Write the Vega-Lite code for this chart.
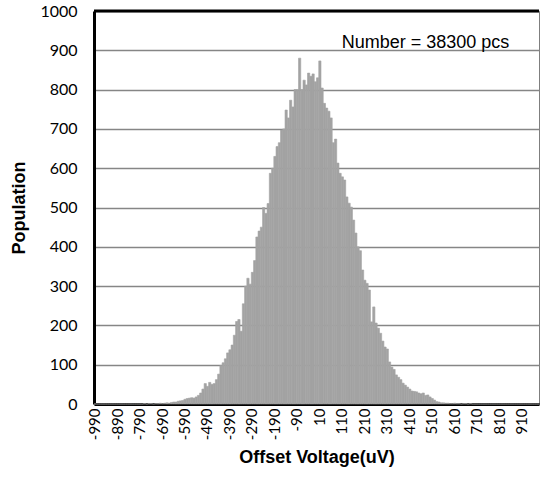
{
  "$schema": "https://vega.github.io/schema/vega-lite/v6.json",
  "width": 445,
  "height": 393,
  "autosize": {"type": "none"},
  "padding": {"left": 94, "top": 11, "right": 2, "bottom": 82},
  "background": "white",
  "config": {
    "view": {"stroke": "#7f7f7f", "strokeWidth": 1},
    "axis": {"labelColor": "black", "titleColor": "black"}
  },
  "data": {"values": [
    {"v": -990, "n": 0}, {"v": -980, "n": 0}, {"v": -970, "n": 0}, {"v": -960, "n": 0}, {"v": -950, "n": 0},
    {"v": -940, "n": 0}, {"v": -930, "n": 0}, {"v": -920, "n": 0}, {"v": -910, "n": 0}, {"v": -900, "n": 0},
    {"v": -890, "n": 0}, {"v": -880, "n": 0}, {"v": -870, "n": 0}, {"v": -860, "n": 0}, {"v": -850, "n": 0},
    {"v": -840, "n": 0}, {"v": -830, "n": 0}, {"v": -820, "n": 0}, {"v": -810, "n": 0}, {"v": -800, "n": 0},
    {"v": -790, "n": 0}, {"v": -780, "n": 0}, {"v": -770, "n": 1}, {"v": -760, "n": 0}, {"v": -750, "n": 1},
    {"v": -740, "n": 1}, {"v": -730, "n": 0}, {"v": -720, "n": 1}, {"v": -710, "n": 1}, {"v": -700, "n": 2},
    {"v": -690, "n": 1}, {"v": -680, "n": 2}, {"v": -670, "n": 3}, {"v": -660, "n": 2}, {"v": -650, "n": 4},
    {"v": -640, "n": 5}, {"v": -630, "n": 5}, {"v": -620, "n": 7}, {"v": -610, "n": 8}, {"v": -600, "n": 9},
    {"v": -590, "n": 12}, {"v": -580, "n": 14}, {"v": -570, "n": 15}, {"v": -560, "n": 16}, {"v": -550, "n": 15},
    {"v": -540, "n": 18}, {"v": -530, "n": 22}, {"v": -520, "n": 28}, {"v": -510, "n": 38}, {"v": -500, "n": 52},
    {"v": -490, "n": 45}, {"v": -480, "n": 55}, {"v": -470, "n": 50}, {"v": -460, "n": 52}, {"v": -450, "n": 62},
    {"v": -440, "n": 76}, {"v": -430, "n": 98}, {"v": -420, "n": 105}, {"v": -410, "n": 115}, {"v": -400, "n": 130},
    {"v": -390, "n": 138}, {"v": -380, "n": 150}, {"v": -370, "n": 175}, {"v": -360, "n": 210}, {"v": -350, "n": 215},
    {"v": -340, "n": 185}, {"v": -330, "n": 255}, {"v": -320, "n": 300}, {"v": -310, "n": 320}, {"v": -300, "n": 305},
    {"v": -290, "n": 335}, {"v": -280, "n": 365}, {"v": -270, "n": 425}, {"v": -260, "n": 440}, {"v": -250, "n": 450},
    {"v": -240, "n": 500}, {"v": -230, "n": 485}, {"v": -220, "n": 510}, {"v": -210, "n": 587}, {"v": -200, "n": 600},
    {"v": -190, "n": 630}, {"v": -180, "n": 655}, {"v": -170, "n": 665}, {"v": -160, "n": 697}, {"v": -150, "n": 700},
    {"v": -140, "n": 748}, {"v": -130, "n": 728}, {"v": -120, "n": 773}, {"v": -110, "n": 756}, {"v": -100, "n": 800},
    {"v": -90, "n": 800}, {"v": -80, "n": 880}, {"v": -70, "n": 800}, {"v": -60, "n": 824}, {"v": -50, "n": 812},
    {"v": -40, "n": 842}, {"v": -30, "n": 834}, {"v": -20, "n": 840}, {"v": -10, "n": 820}, {"v": 0, "n": 830},
    {"v": 10, "n": 873}, {"v": 20, "n": 804}, {"v": 30, "n": 765}, {"v": 40, "n": 753}, {"v": 50, "n": 745},
    {"v": 60, "n": 728}, {"v": 70, "n": 665}, {"v": 80, "n": 674}, {"v": 90, "n": 613}, {"v": 100, "n": 587},
    {"v": 110, "n": 578}, {"v": 120, "n": 570}, {"v": 130, "n": 527}, {"v": 140, "n": 511}, {"v": 150, "n": 501},
    {"v": 160, "n": 468}, {"v": 170, "n": 435}, {"v": 180, "n": 400}, {"v": 190, "n": 390}, {"v": 200, "n": 341},
    {"v": 210, "n": 315}, {"v": 220, "n": 307}, {"v": 230, "n": 290}, {"v": 240, "n": 209}, {"v": 250, "n": 247},
    {"v": 260, "n": 206}, {"v": 270, "n": 193}, {"v": 280, "n": 180}, {"v": 290, "n": 160}, {"v": 300, "n": 145},
    {"v": 310, "n": 140}, {"v": 320, "n": 107}, {"v": 330, "n": 94}, {"v": 340, "n": 88}, {"v": 350, "n": 74},
    {"v": 360, "n": 68}, {"v": 370, "n": 62}, {"v": 380, "n": 53}, {"v": 390, "n": 48}, {"v": 400, "n": 43},
    {"v": 410, "n": 38}, {"v": 420, "n": 33}, {"v": 430, "n": 32}, {"v": 440, "n": 31}, {"v": 450, "n": 28},
    {"v": 460, "n": 26}, {"v": 470, "n": 28}, {"v": 480, "n": 22}, {"v": 490, "n": 23}, {"v": 500, "n": 18},
    {"v": 510, "n": 14}, {"v": 520, "n": 10}, {"v": 530, "n": 6}, {"v": 540, "n": 5}, {"v": 550, "n": 3},
    {"v": 560, "n": 3}, {"v": 570, "n": 2}, {"v": 580, "n": 2}, {"v": 590, "n": 1}, {"v": 600, "n": 1},
    {"v": 610, "n": 2}, {"v": 620, "n": 1}, {"v": 630, "n": 1}, {"v": 640, "n": 0}, {"v": 650, "n": 1},
    {"v": 660, "n": 1}, {"v": 670, "n": 0}, {"v": 680, "n": 1}, {"v": 690, "n": 0}, {"v": 700, "n": 0},
    {"v": 710, "n": 0}, {"v": 720, "n": 0}, {"v": 730, "n": 0}, {"v": 740, "n": 0}, {"v": 750, "n": 0},
    {"v": 760, "n": 0}, {"v": 770, "n": 0}, {"v": 780, "n": 0}, {"v": 790, "n": 0}, {"v": 800, "n": 0},
    {"v": 810, "n": 0}, {"v": 820, "n": 0}, {"v": 830, "n": 0}, {"v": 840, "n": 0}, {"v": 850, "n": 0},
    {"v": 860, "n": 0}, {"v": 870, "n": 0}, {"v": 880, "n": 0}, {"v": 890, "n": 0}, {"v": 900, "n": 0},
    {"v": 910, "n": 0}, {"v": 920, "n": 0}, {"v": 930, "n": 0}, {"v": 940, "n": 0}, {"v": 950, "n": 0},
    {"v": 960, "n": 0}, {"v": 970, "n": 0}, {"v": 980, "n": 0}
  ]},
  "layer": [
    {
      "mark": {"type": "bar", "color": "#a3a3a3", "stroke": "#a3a3a3", "strokeWidth": 0.6},
      "encoding": {
        "x": {
          "field": "v", "type": "ordinal", "sort": "ascending",
          "scale": {"paddingInner": 0, "paddingOuter": 0},
          "axis": {
            "values": [-990, -890, -790, -690, -590, -490, -390, -290, -190, -90, 10, 110, 210, 310, 410, 510, 610, 710, 810, 910],
            "labelAngle": -90, "labelFont": "Lato", "labelFontSize": 15, "labelPadding": 4,
            "labelOverlap": false,
            "ticks": false, "grid": false,
            "domainColor": "black", "domainWidth": 3,
            "title": "Offset Voltage(uV)", "titleFont": "Liberation Sans", "titleFontSize": 18,
            "titleFontWeight": "bold", "titlePadding": 9
          }
        },
        "y": {
          "field": "n", "type": "quantitative",
          "scale": {"domain": [0, 1000], "nice": false},
          "axis": {
            "title": "Population",
            "values": [0, 100, 200, 300, 400, 500, 600, 700, 800, 900, 1000],
            "tickCount": 20, "format": "d", "labelOverlap": false,
            "labelFont": "Lato", "labelFontSize": 16, "labelPadding": 17,
            "ticks": false, "grid": true, "gridColor": "#868686", "gridWidth": 1.5,
            "domainColor": "black", "domainWidth": 3,
            "titleFont": "Liberation Sans", "titleFontSize": 18,
            "titleFontWeight": "bold", "titlePadding": 11
          }
        }
      }
    },
    {
      "data": {"values": [{}]},
      "mark": {"type": "rule", "color": "black", "strokeWidth": 3},
      "encoding": {"y": {"datum": 1000, "type": "quantitative"}}
    },
    {
      "data": {"values": [{}]},
      "mark": {"type": "text", "text": "Number = 38300 pcs", "font": "Liberation Sans", "fontSize": 18, "align": "center", "baseline": "alphabetic", "color": "black"},
      "encoding": {
        "x": {"datum": 480, "type": "ordinal"},
        "y": {"datum": 907, "type": "quantitative"}
      }
    }
  ]
}
